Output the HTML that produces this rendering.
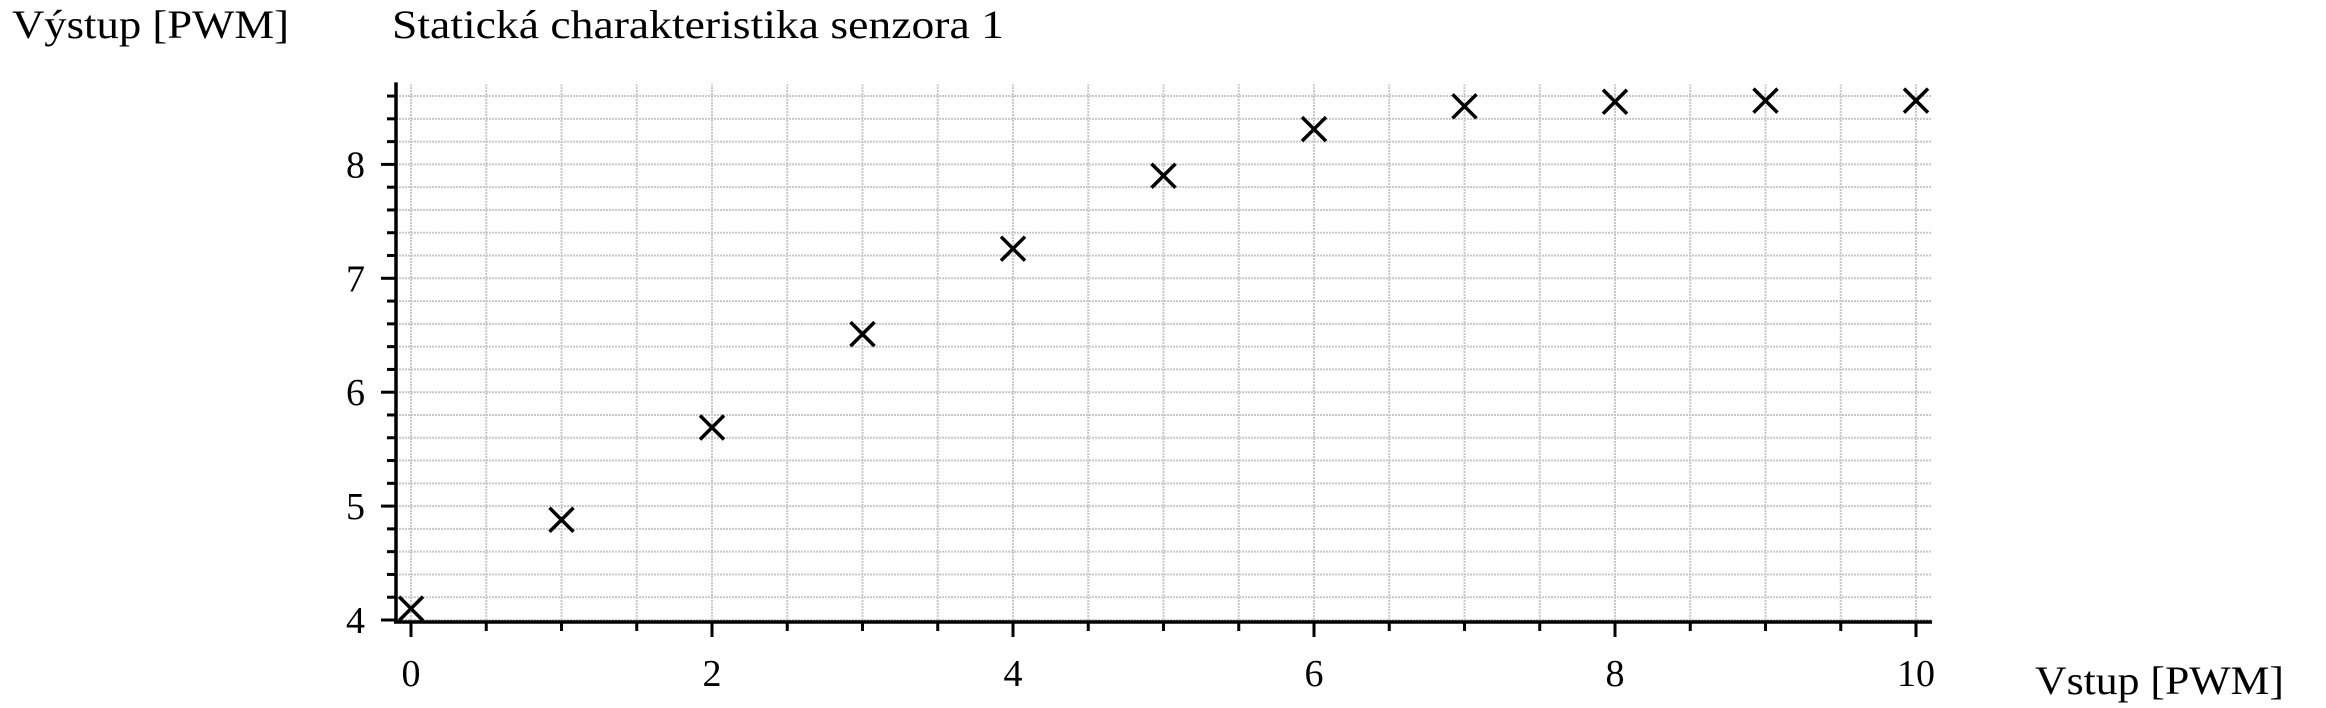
<!DOCTYPE html>
<html><head><meta charset="utf-8">
<style>
html,body{margin:0;padding:0;background:#fff;}
svg{display:block;font-family:"Liberation Serif",serif;}
</style></head>
<body>
<svg id="chart" width="2326" height="708" viewBox="0 0 2326 708" xmlns="http://www.w3.org/2000/svg">
<text x="12" y="38" font-size="40" textLength="277" lengthAdjust="spacingAndGlyphs">Výstup [PWM]</text>
<text x="392" y="38" font-size="40" textLength="612" lengthAdjust="spacingAndGlyphs">Statická charakteristika senzora 1</text>
<text x="2035" y="694" font-size="40" textLength="249" lengthAdjust="spacingAndGlyphs">Vstup [PWM]</text>
<g id="grid"></g>
<g id="axes"></g>
<g id="marks"></g>
</svg>
<script>
const xValues = [0,1,2,3,4,5,6,7,8,9,10];
const yValues = [4.10,4.88,5.69,6.51,7.26,7.90,8.31,8.51,8.55,8.56,8.56];
const xTickLabels = [0,2,4,6,8,10];
const yTickLabels = [4,5,6,7,8];

const NS = "http://www.w3.org/2000/svg";
function sx(v){ return 411 + v*150.5; }
function sy(v){ return 620 - (v-4)*113.9; }
function mk(tag, attrs, parent){
  const e = document.createElementNS(NS, tag);
  for (const k in attrs) e.setAttribute(k, attrs[k]);
  parent.appendChild(e);
  return e;
}
const grid = document.getElementById('grid');
const axes = document.getElementById('axes');
const marks = document.getElementById('marks');
const xMax = 10.1, yMax = 8.72;

for (let i=0; i<=20; i++){
  const v = i*0.5;
  const l = mk('line',{x1:sx(v),x2:sx(v),y1:sy(4),y2:sy(yMax)+2,stroke:'#c8c8c8','stroke-width':2,'stroke-dasharray':'2,1'},grid);
  
  
  const major = (i%4===0);
  const t = mk('line',{x1:sx(v),x2:sx(v),y1:622,y2:major?637:631,stroke:'#000','stroke-width':3},axes);
  
  
}
for (let i=0; i<=23; i++){
  const v = 4 + i*0.2;
  const l = mk('line',{x1:396,x2:sx(xMax),y1:sy(v),y2:sy(v),stroke:'#c8c8c8','stroke-width':2,'stroke-dasharray':'2,1'},grid);
  
  
  const major = (i%5===0);
  const t = mk('line',{x1:396,x2:major?381:387,y1:sy(v),y2:sy(v),stroke:'#000','stroke-width':3},axes);
  
  
}
const xa = mk('line',{x1:394,x2:sx(xMax)+1,y1:622,y2:622,stroke:'#000','stroke-width':3.5},axes);


const ya = mk('line',{x1:396,x2:396,y1:623,y2:sy(yMax),stroke:'#000','stroke-width':3.5},axes);



xTickLabels.forEach(v=>{
  const t = mk('text',{x:sx(v),y:686,'font-size':38,'text-anchor':'middle'},axes);
  t.textContent = v;
  
  
});
yTickLabels.forEach(v=>{
  const t = mk('text',{x:365,y:sy(v)+13,'font-size':38,'text-anchor':'end'},axes);
  t.textContent = v;
  
  
});

xValues.forEach((x,i)=>{
  const cx = sx(x), cy = sy(yValues[i]), r = 12;
  const g = mk('path',{d:`M${cx-r},${cy-r}L${cx+r},${cy+r}M${cx-r},${cy+r}L${cx+r},${cy-r}`,stroke:'#000','stroke-width':3.5,fill:'none'},marks);
  
  
});
</script>
</body></html>
